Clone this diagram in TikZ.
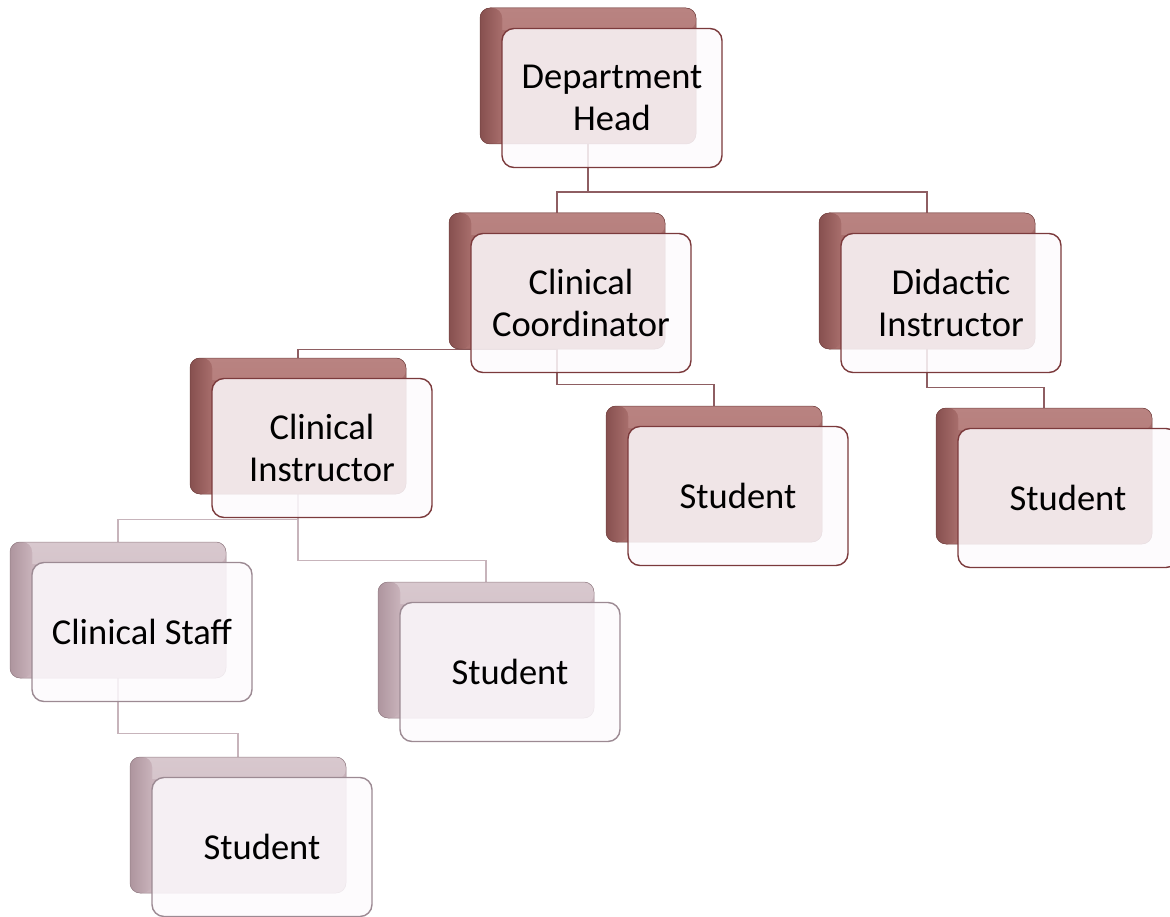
\documentclass[tikz,border=0pt]{standalone}
\usepackage{fontspec}
\setmainfont{Carlito}
\usetikzlibrary{backgrounds}
\definecolor{edgedark}{HTML}{7B3A3C}
\definecolor{edgepale}{HTML}{9C8A93}
\definecolor{frontfill}{HTML}{FDFAFD}
\definecolor{backdark}{HTML}{A86E6C}
\definecolor{backdarkl}{HTML}{87504F}
\definecolor{backdarkt}{HTML}{B98381}
\definecolor{backpale}{HTML}{C9B3BB}
\definecolor{backpalel}{HTML}{AE959E}
\definecolor{backpalet}{HTML}{D8C8CE}
\definecolor{linkdark}{HTML}{8E5E62}
\definecolor{linkpale}{HTML}{C7B4BB}

\begin{document}
\begin{tikzpicture} [x=1pt,y=-1pt,
  front/.style={draw=edgedark, line width=1.4pt, fill=frontfill, fill opacity=0.85,
    text opacity=1, rounded corners=12pt, minimum width=220pt, minimum height=139pt,
    align=center, font=\fontsize{36.5}{42}\selectfont},
  frontpale/.style={front, draw=edgepale},
  back/.style={rounded corners=10pt, minimum width=216pt, minimum height=136pt,
    fill=backdark, draw=backdarkl!85!black, line width=0.5pt,
    path picture={
      \fill [top color=backdarkt, bottom color=backdark]
        (path picture bounding box.north west) rectangle
        ([yshift=-22pt]path picture bounding box.north east);
      \fill [left color=backdarkl, right color=backdark]
        (path picture bounding box.north west) rectangle
        ([xshift=22pt]path picture bounding box.south west);}},
  backpale/.style={rounded corners=10pt, minimum width=216pt, minimum height=136pt,
    fill=backpale, draw=backpalel!85!black, line width=0.5pt,
    path picture={
      \fill [top color=backpalet, bottom color=backpale]
        (path picture bounding box.north west) rectangle
        ([yshift=-22pt]path picture bounding box.north east);
      \fill [left color=backpalel, right color=backpale]
        (path picture bounding box.north west) rectangle
        ([xshift=22pt]path picture bounding box.south west);}},
  link/.style={draw=linkdark, line width=1.5pt},
  linkpale/.style={draw=linkpale, line width=1.5pt}]

\useasboundingbox (0,0) rectangle (1170,917);

\node [back] (headb) at (588,76) {};
\node [front] (head) at (612,98) {Department\\Head};

\node [back] (ccb) at (557,281) {};
\node [front] (cc) at (581,303) {Clinical\\Coordinator};

\node [back] (dib) at (927,281) {};
\node [front] (di) at (951,303) {Didactic\\Instructor};

\node [back] (cib) at (298,426) {};
\node [front] (ci) at (322,448) {Clinical\\Instructor};

\node [back] (ccsb) at (714,474) {};
\node [front] (ccs) at (738,496) {Student};

\node [back] (disb) at (1044,476) {};
\node [front] (dis) at (1068,498) {Student};

\node [backpale] (staffb) at (118,610) {};
\node [frontpale] (staff) at (142,632) {Clinical Staff};

\node [backpale] (cisb) at (486,650) {};
\node [frontpale] (cis) at (510,672) {Student};

\node [backpale] (staffsb) at (238,825) {};
\node [frontpale] (staffs) at (262,847) {Student};

\begin{scope}[on background layer]
\draw [link] (headb.south) -- ++(0,48) -| (ccb.north);
\draw [link] (headb.south) -- ++(0,48) -| (dib.north);
\draw [link] (ccb.south) -| (cib.north);
\draw [link] (ccb.south) -- ++(0,35) -| (ccsb.north);
\draw [link] (dib.south) -- ++(0,38) -| (disb.north);
\draw [linkpale] (cib.south) -- ++(0,25) -| (staffb.north);
\draw [linkpale] (cib.south) -- ++(0,66) -| (cisb.north);
\draw [linkpale] (staffb.south) -- ++(0,55) -| (staffsb.north);
\end{scope}

\end{tikzpicture}
\end{document}
